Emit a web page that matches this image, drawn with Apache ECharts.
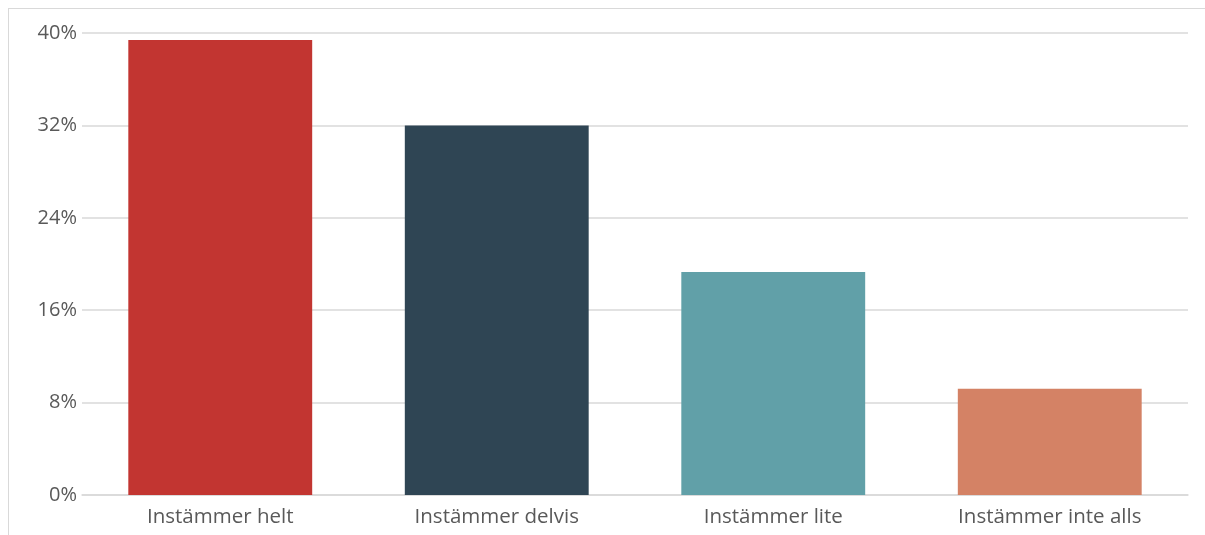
<!DOCTYPE html>
<html><head><meta charset="utf-8">
<script src="https://cdn.jsdelivr.net/npm/echarts@6/dist/echarts.min.js"></script>
<style>
html,body{margin:0;padding:0;background:#fff;}
#frame{position:absolute;left:8px;top:8px;width:1205px;height:535px;border:1px solid #d9d9d9;box-sizing:border-box;}
#chart{position:absolute;left:0;top:0;width:1205px;height:535px;}
</style></head>
<body>
<div id="frame"></div>
<div id="chart"></div>
<script>
const categories = ['Instämmer helt', 'Instämmer delvis', 'Instämmer lite', 'Instämmer inte alls'];
const values = [39.4, 32.0, 19.3, 9.2];
const colors = ['#c23531', '#2f4554', '#61a0a8', '#d48265'];

const chart = echarts.init(document.getElementById('chart'), null, {renderer: 'canvas'});
chart.setOption({
  animation: false,
  grid: {left: 82, right: 17, top: 33, bottom: 40, containLabel: false},
  xAxis: {
    type: 'category',
    data: categories,
    axisTick: {show: false},
    axisLine: {lineStyle: {color: '#d9d9d9', width: 1.5}},
    axisLabel: {color: '#595959', fontSize: 20.5, fontFamily: 'Open Sans', margin: 12}
  },
  yAxis: {
    type: 'value',
    min: 0, max: 40, interval: 8,
    axisLine: {show: false},
    axisTick: {show: false},
    splitLine: {lineStyle: {color: '#d9d9d9', width: 1.5}},
    axisLabel: {color: '#595959', fontSize: 20, fontFamily: 'Open Sans', margin: 5,
      formatter: v => v + '%'}
  },
  series: [{
    type: 'bar',
    barWidth: '66.5%',
    data: values.map((v, i) => ({value: v, itemStyle: {color: colors[i]}}))
  }]
});
</script>
</body></html>
